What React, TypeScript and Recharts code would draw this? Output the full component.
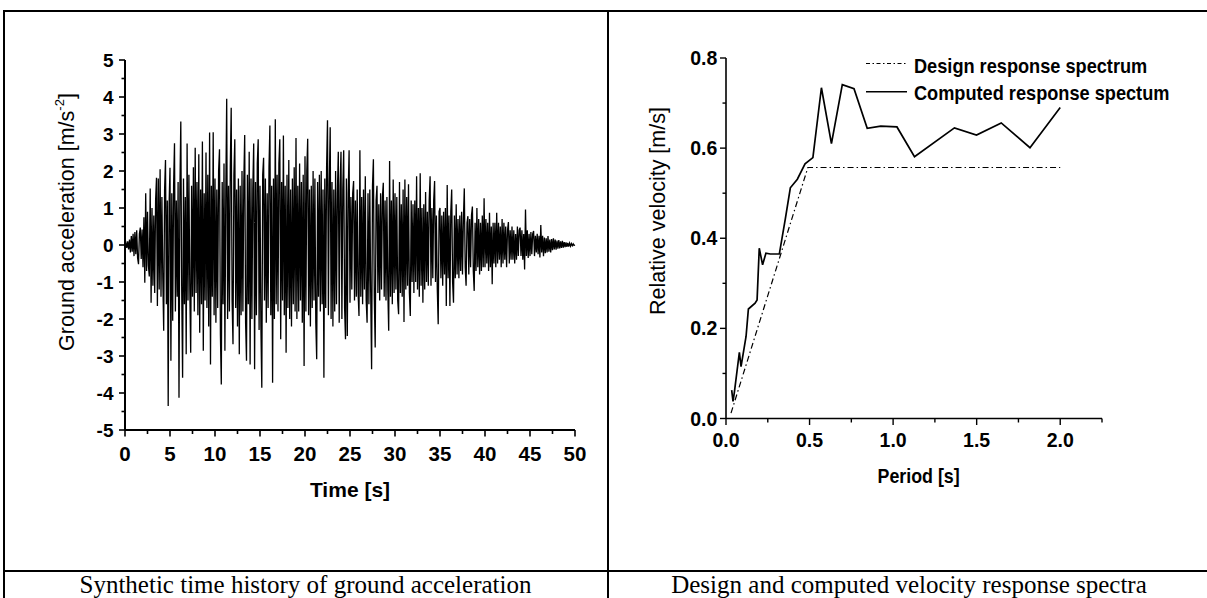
import React from "react";
import { LineChart, Line, XAxis, YAxis, Customized } from "recharts";

const ARIAL = "Arial, 'Liberation Sans', Helvetica, sans-serif";
const TIMES = "'Times New Roman', 'Liberation Serif', serif";

// ground acceleration [m/s^-2], sampled every 0.1 s from 0 to 50 s (one row per second)
const accelStep = 0.1;
const groundAccel: number[] = [
  0, 0.06, -0.08, 0.1, -0.12, 0.15, -0.2, 0.24, -0.18, 0.3,
  -0.3, 0.35, -0.25, 0.4, -0.35, -0.52, 0.3, 0.47, -0.38, 0.42,
  -0.6, 0.75, -1.02, 1.4, -0.7, 0.9, -0.55, -0.85, 1.53, -1.56,
  1.0, -1.1, 0.8, -1.3, 1.2, 1.82, -1.65, 1.8, -1.2, 2.05,
  -1.4, 1.3, -0.9, -2.32, 1.5, 2.3, -1.6, 1.2, -4.35, 1.1,
  2.09, -3.13, 1.4, -2.05, 1.6, 2.75, -1.8, 1.2, -1.4, 1.7,
  -4.13, 1.5, 3.34, -1.2, -3.59, 1.8, -1.6, 1.3, -2.95, 2.74,
  -1.5, 1.9, -1.2, -2.91, 1.6, -1.4, 2.1, -1.8, 2.63, -1.3,
  1.7, -1.9, 2.45, -2.37, 1.5, -1.6, 2.8, -2.86, 1.4, -1.5,
  2.5, -1.7, 1.9, -2.2, 3.04, -3.23, 1.6, -1.4, 3.05, -1.9,
  1.8, -2.1, 1.5, -1.7, 2.0, 2.59, -2.4, -3.77, 1.7, -1.6,
  2.2, -2.86, 1.4, 3.95, -2.0, 1.6, -1.8, 2.1, 3.71, -1.5,
  -2.68, 1.9, 2.86, -1.7, 1.5, -2.2, 1.8, -2.95, 1.6, -1.9,
  2.0, -1.8, 1.7, 2.97, -2.1, -3.13, 1.9, -1.6, 2.52, -3.23,
  1.8, -2.0, 1.5, 2.74, -3.36, 1.7, -1.9, 2.2, 2.86, -2.3,
  1.6, -2.2, -3.86, 1.9, 2.36, -1.5, 1.8, -2.1, 1.4, -1.7,
  2.1, 3.23, -1.9, 1.6, -3.72, 1.8, -2.0, 3.4, -1.6, 1.9,
  -1.8, 2.2, 2.86, -2.55, 1.7, -1.5, 2.96, -1.9, 1.6, -2.91,
  1.9, -1.7, 2.3, -2.0, 1.5, -2.2, 1.8, -1.6, 2.1, -1.8,
  2.89, -2.0, 1.6, -1.8, 2.2, -1.5, 1.7, -2.1, 1.9, -3.27,
  2.4, -1.8, 2.0, 2.87, -1.9, 1.5, -2.2, 1.6, -1.7, 2.0,
  -1.5, 1.8, -2.1, -3.09, 1.7, -1.4, 1.9, -1.8, 2.0, -1.6,
  1.5, -3.59, 1.8, -1.7, 2.1, 3.37, -1.9, 1.6, 3.18, -2.0,
  1.7, -2.2, 1.5, -1.8, 2.0, -1.6, 1.4, 2.52, -2.1, 1.6,
  2.52, -2.0, 1.5, 2.56, -1.7, -2.55, 1.8, -2.46, 1.4, 2.56,
  -1.56, 1.3, -1.2, 1.4, 1.73, -1.5, 1.2, -1.4, 1.5, -1.3,
  -1.92, 2.56, -1.4, 1.3, -1.6, 1.5, -1.2, 1.86, -1.5, -2.1,
  1.4, -1.6, 1.5, -1.3, -3.36, 1.6, 2.32, -1.4, -2.77, 1.2,
  1.6, -1.3, 1.1, -1.5, 1.4, -1.2, 1.3, 1.68, -1.4, 1.2,
  -1.5, 1.3, -1.2, -2.32, 2.27, -1.4, 1.2, -1.6, 1.77, -1.3,
  1.4, -1.2, 1.3, -1.5, -1.87, 1.7, -1.3, 1.1, -1.4, 1.5,
  -2.08, 1.77, -1.2, 1.3, -1.1, 1.64, -1.3, -1.92, 1.2, -1.0,
  1.1, -1.3, 1.2, -1.0, 1.86, -1.2, 1.0, -1.4, 1.94, -1.1,
  1.0, -1.56, 1.1, -1.2, 1.43, -1.0, 0.9, -1.1, 1.2, 1.86,
  -1.1, 1.0, -0.9, 1.2, 1.73, -1.0, 0.8, -1.2, -2.14, 0.9,
  1.0, -0.9, 0.8, -1.1, 0.9, -0.8, 1.0, -1.65, 1.62, -0.9,
  0.8, -1.65, 0.9, 1.5, -1.0, -1.56, 0.8, -0.9, 1.1, -0.8,
  0.7, -0.9, 0.8, -0.7, 0.9, -0.8, 0.7, 1.53, -0.6, -1.1,
  0.6, 0.78, -0.8, 0.7, -0.6, 0.8, 1.04, -0.7, -1.24, 0.6,
  -0.7, 1.0, -0.6, 0.7, -0.8, 0.6, -0.7, 0.8, -0.6, 1.26,
  -0.6, 0.7, -0.5, 0.6, -0.7, 0.87, -0.6, 0.5, -1.06, 0.6,
  -0.5, 0.6, -0.6, 0.87, -0.5, 0.6, -0.4, 0.5, -0.6, 0.7,
  -0.5, 0.6, -0.4, 0.5, -0.6, 0.4, 0.62, -0.5, 0.4, -0.4,
  0.5, -0.4, 0.4, -0.5, 0.3, -0.4, 0.5, -0.3, 0.4, 0.47,
  -0.3, 0.4, -0.4, 0.3, -0.66, 0.96, -0.3, 0.4, -0.35, 0.3,
  -0.3, 0.35, -0.25, 0.3, 0.38, -0.3, 0.25, -0.2, 0.3, -0.25,
  0.25, -0.34, 0.54, -0.2, 0.25, -0.3, 0.2, -0.22, 0.18, -0.2,
  0.24, -0.18, 0.15, -0.2, 0.16, -0.14, 0.18, -0.12, 0.15, -0.13,
  0.12, -0.1, 0.13, -0.09, 0.1, -0.08, 0.11, -0.07, 0.08, -0.06,
  0.07, -0.05, 0.06, -0.04, 0.05, -0.03, 0.04, -0.02, 0.03, -0.01,
  0,
];
const timeTicks = [0, 2.5, 5, 7.5, 10, 12.5, 15, 17.5, 20, 22.5, 25, 27.5, 30, 32.5, 35, 37.5, 40, 42.5, 45, 47.5, 50];
const accelTicks = [-5, -4.5, -4, -3.5, -3, -2.5, -2, -1.5, -1, -0.5, 0, 0.5, 1, 1.5, 2, 2.5, 3, 3.5, 4, 4.5, 5];

// velocity response spectra [m/s] against period [s]
const designPeriod = [0.03, 0.49, 2.0];
const designVelocity = [0.012, 0.557, 0.557];
const computedPeriod = [
  0.034, 0.042, 0.05, 0.08, 0.09, 0.12, 0.134, 0.174, 0.186, 0.199, 0.219, 0.239, 0.265, 0.319, 0.355, 0.385,
  0.427, 0.473, 0.52, 0.571, 0.631, 0.696, 0.766, 0.845, 0.926, 1.023, 1.128, 1.367, 1.499, 1.647, 1.819, 2.0,
];
const computedVelocity = [
  0.063, 0.038, 0.058, 0.147, 0.115, 0.182, 0.243, 0.256, 0.263, 0.378, 0.341, 0.367, 0.365, 0.365, 0.443, 0.512,
  0.531, 0.565, 0.579, 0.734, 0.61, 0.741, 0.732, 0.644, 0.649, 0.647, 0.581, 0.645, 0.629, 0.656, 0.601, 0.69,
];
const periodTicks = [0, 0.25, 0.5, 0.75, 1, 1.25, 1.5, 1.75, 2, 2.25];
const velocityTicks = [0, 0.1, 0.2, 0.3, 0.4, 0.5, 0.6, 0.7, 0.8];

const accelData = groundAccel.map((a, i) => ({ t: Math.round(i * accelStep * 10) / 10, a }));
const designData = designPeriod.map((p, i) => ({ p, v: designVelocity[i] }));
const computedData = computedPeriod.map((p, i) => ({ p, v: computedVelocity[i] }));

const DASH_DOT = "6 3 1.5 3";
// the right-hand figure's lettering is horizontally squeezed
const SQUEEZE = 0.866;

const onStep = (v: number, step: number) => Math.abs(v / step - Math.round(v / step)) < 1e-6;

function bottomTick(step: number, fmt: (v: number) => string, fontSize: number, dy: number, w: number) {
  return (props: any) => {
    const { x, y, payload } = props;
    const major = onStep(payload.value, step);
    return (
      <g>
        <line x1={x} y1={y} x2={x} y2={y + (major ? 6.5 : 4)} stroke="#000" strokeWidth={w} />
        {major && (
          <text x={x} y={y + dy} textAnchor="middle" fontFamily={ARIAL} fontWeight="bold" fontSize={fontSize} fill="#000">
            {fmt(payload.value)}
          </text>
        )}
      </g>
    );
  };
}

function leftTick(step: number, fmt: (v: number) => string, fontSize: number, gap: number, w: number) {
  return (props: any) => {
    const { x, y, payload } = props;
    const major = onStep(payload.value, step);
    return (
      <g>
        <line x1={x} y1={y} x2={x - (major ? 6 : 3.5)} y2={y} stroke="#000" strokeWidth={w} />
        {major && (
          <text x={x - gap} y={y} dy="0.36em" textAnchor="end" fontFamily={ARIAL} fontWeight="bold" fontSize={fontSize} fill="#000">
            {fmt(payload.value)}
          </text>
        )}
      </g>
    );
  };
}

const SpectraLegend = () => (
  <g fontFamily={ARIAL} fontWeight="bold" fontSize={21} fill="#000">
    <line x1={259} x2={300} y1={63.5} y2={63.5} stroke="#000" strokeWidth={1.2} strokeDasharray="4 2.5 1.5 2.5" />
    <text transform={`translate(307,73.3) scale(${SQUEEZE},1)`}>Design response spectrum</text>
    <line x1={259} x2={300} y1={91.7} y2={91.7} stroke="#000" strokeWidth={1.6} />
    <text transform={`translate(307,100) scale(${SQUEEZE},1)`}>Computed response spectum</text>
  </g>
);

function AccelChart() {
  return (
    <LineChart width={600} height={560} data={accelData} margin={{ top: 60, right: 25, bottom: 100, left: 0 }}>
      <XAxis
        dataKey="t"
        type="number"
        domain={[0, 50]}
        ticks={timeTicks}
        interval={0}
        height={30}
        tickSize={0}
        tickMargin={0}
        tickLine={false}
        axisLine={{ stroke: "#000", strokeWidth: 2 }}
        tick={bottomTick(5, (v) => String(v), 20.5, 30.5, 1.6)}
        label={() => (
          <text x={350} y={496.5} textAnchor="middle" fontFamily={ARIAL} fontWeight="bold" fontSize={21} fill="#000">
            Time [s]
          </text>
        )}
      />
      <YAxis
        type="number"
        domain={[-5, 5]}
        ticks={accelTicks}
        interval={0}
        width={125}
        tickSize={0}
        tickMargin={0}
        tickLine={false}
        axisLine={{ stroke: "#000", strokeWidth: 2 }}
        tick={leftTick(1, (v) => String(v), 19, 11.5, 1.6)}
        label={() => (
          <text
            transform="translate(66.5,222) rotate(-90)"
            textAnchor="middle"
            dominantBaseline="central"
            fontFamily={ARIAL}
            fontSize={21.5}
            fill="#000"
          >
            Ground acceleration [m/s
            <tspan dy={-8} fontSize={13}>-2</tspan>
            <tspan dy={8}>]</tspan>
          </text>
        )}
      />
      <Line type="linear" dataKey="a" stroke="#000" strokeWidth={1.3} dot={false} isAnimationActive={false} />
    </LineChart>
  );
}

function SpectraChart() {
  return (
    <LineChart width={600} height={560} margin={{ top: 58, right: 105, bottom: 111.5, left: 0 }}>
      <XAxis
        dataKey="p"
        type="number"
        domain={[0, 2.25]}
        ticks={periodTicks}
        interval={0}
        height={30}
        tickSize={0}
        tickMargin={0}
        tickLine={false}
        axisLine={{ stroke: "#000", strokeWidth: 1.6 }}
        tick={bottomTick(0.5, (v) => v.toFixed(1), 19.5, 28.5, 1.4)}
        label={() => (
          <text transform={`translate(311.6,483.3) scale(0.85,1)`} textAnchor="middle" fontFamily={ARIAL} fontWeight="bold" fontSize={21} fill="#000">
            Period [s]
          </text>
        )}
      />
      <YAxis
        type="number"
        domain={[0, 0.8]}
        ticks={velocityTicks}
        interval={0}
        width={119}
        tickSize={0}
        tickMargin={0}
        tickLine={false}
        axisLine={{ stroke: "#000", strokeWidth: 1.6 }}
        tick={leftTick(0.2, (v) => v.toFixed(1), 19.5, 8.7, 1.4)}
        label={() => (
          <text
            transform="translate(50.6,211) rotate(-90)"
            textAnchor="middle"
            dominantBaseline="central"
            fontFamily={ARIAL}
            fontSize={21.5}
            fill="#000"
          >
            Relative velocity [m/s]
          </text>
        )}
      />
      <Line data={designData} type="linear" dataKey="v" stroke="#000" strokeWidth={1.2} strokeDasharray={DASH_DOT} dot={false} isAnimationActive={false} />
      <Line data={computedData} type="linear" dataKey="v" stroke="#000" strokeWidth={1.7} dot={false} isAnimationActive={false} />
      <Customized component={SpectraLegend} />
    </LineChart>
  );
}

export default function App() {
  const line = "#000";
  return (
    <div style={{ position: "absolute", left: 0, top: 0, width: 1207, height: 598, overflow: "hidden", background: "#fff" }}>
      {/* table frame */}
      <div style={{ position: "absolute", left: 3, top: 10, width: 1260, height: 660, border: `2px solid ${line}`, boxSizing: "border-box" }} />
      <div style={{ position: "absolute", left: 606.5, top: 10, width: 2, height: 640, background: line }} />
      <div style={{ position: "absolute", left: 3, top: 570, width: 1260, height: 2, background: line }} />

      <div style={{ position: "absolute", left: 0, top: 0 }}>
        <AccelChart />
      </div>
      <div style={{ position: "absolute", left: 607, top: 0 }}>
        <SpectraChart />
      </div>

      <div style={{ position: "absolute", left: 5, top: 572, width: 601, textAlign: "center", fontFamily: TIMES, fontSize: 25, lineHeight: "25px", whiteSpace: "nowrap" }}>
        Synthetic time history of ground acceleration
      </div>
      <div style={{ position: "absolute", left: 608.5, top: 572, width: 601, textAlign: "center", fontFamily: TIMES, fontSize: 25, lineHeight: "25px", whiteSpace: "nowrap" }}>
        Design and computed velocity response spectra
      </div>
    </div>
  );
}
